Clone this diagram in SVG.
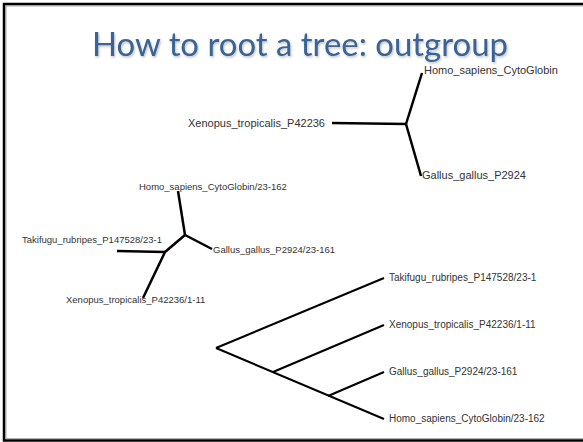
<svg xmlns="http://www.w3.org/2000/svg" width="583" height="442" viewBox="0 0 583 442">
  <defs>
    <filter id="titleShadow" x="-5%" y="-20%" width="110%" height="150%">
      <feDropShadow dx="1" dy="1.5" stdDeviation="1" flood-color="#000" flood-opacity="0.25"/>
    </filter>
  </defs>
  <style>
    .title { font-family: Lato, "Open Sans", sans-serif; font-size: 33px; fill: #3a6494; }
    .lbl { font-family: "Liberation Sans", Arial, sans-serif; fill: #333; }
    .big { font-size: 11px; }
    .small { font-size: 9.5px; }
    .mid { font-size: 10px; }
    .branch { fill: none; stroke: #000; stroke-linecap: butt; stroke-linejoin: miter; }
    .thick { stroke-width: 2.5; }
    .thin { stroke-width: 2; }
  </style>

  <!-- slide background and frame -->
  <rect x="0" y="0" width="583" height="442" fill="#fff"/>
  <rect x="6" y="6" width="600" height="432.5" fill="none" stroke="#b0b0b0" stroke-width="1"/>
  <rect x="4" y="4" width="620" height="436.5" fill="none" stroke="#000" stroke-width="2.5"/>

  <!-- heading -->
  <text class="title" x="92" y="56" textLength="416" lengthAdjust="spacingAndGlyphs" filter="url(#titleShadow)">How to root a tree: outgroup</text>

  <!-- branches of the three trees -->
  <g id="connectors">
    <!-- unrooted three-taxon tree -->
    <polyline class="branch thick" points="332,123 406,124"/>
    <polyline class="branch thick" points="406,124 422,73"/>
    <polyline class="branch thick" points="406,124 421,176"/>
    <!-- unrooted four-taxon tree -->
    <polyline class="branch thick" points="178,191 185,235"/>
    <polyline class="branch thick" points="185,235 212,249"/>
    <polyline class="branch thick" points="185,235 165,252"/>
    <polyline class="branch thick" points="117,251 165,252"/>
    <polyline class="branch thick" points="165,252 143,298"/>
    <!-- tree rooted on the outgroup -->
    <polyline class="branch thin" points="216,348 384,278"/>
    <polyline class="branch thin" points="216,348 384,419"/>
    <polyline class="branch thin" points="273,372 384,325"/>
    <polyline class="branch thin" points="328,396 384,372"/>
  </g>

  <!-- leaves of the unrooted three-taxon tree -->
  <g id="t1-xenopus"><text class="lbl big" x="325" y="127" text-anchor="end">Xenopus_tropicalis_P42236</text></g>
  <g id="t1-homo"><text class="lbl big" x="424" y="74">Homo_sapiens_CytoGlobin</text></g>
  <g id="t1-gallus"><text class="lbl big" x="422" y="179">Gallus_gallus_P2924</text></g>

  <!-- leaves of the unrooted four-taxon tree -->
  <g id="t2-homo"><text class="lbl small" x="139" y="190">Homo_sapiens_CytoGlobin/23-162</text></g>
  <g id="t2-takifugu"><text class="lbl small" x="22" y="243">Takifugu_rubripes_P147528/23-1</text></g>
  <g id="t2-gallus"><text class="lbl small" x="213" y="253">Gallus_gallus_P2924/23-161</text></g>
  <g id="t2-xenopus"><text class="lbl small" x="66" y="303">Xenopus_tropicalis_P42236/1-11</text></g>

  <!-- leaves of the rooted tree -->
  <g id="t3-takifugu"><text class="lbl mid" x="389" y="281">Takifugu_rubripes_P147528/23-1</text></g>
  <g id="t3-xenopus"><text class="lbl mid" x="389" y="328">Xenopus_tropicalis_P42236/1-11</text></g>
  <g id="t3-gallus"><text class="lbl mid" x="389" y="375">Gallus_gallus_P2924/23-161</text></g>
  <g id="t3-homo"><text class="lbl mid" x="389" y="422">Homo_sapiens_CytoGlobin/23-162</text></g>
</svg>
